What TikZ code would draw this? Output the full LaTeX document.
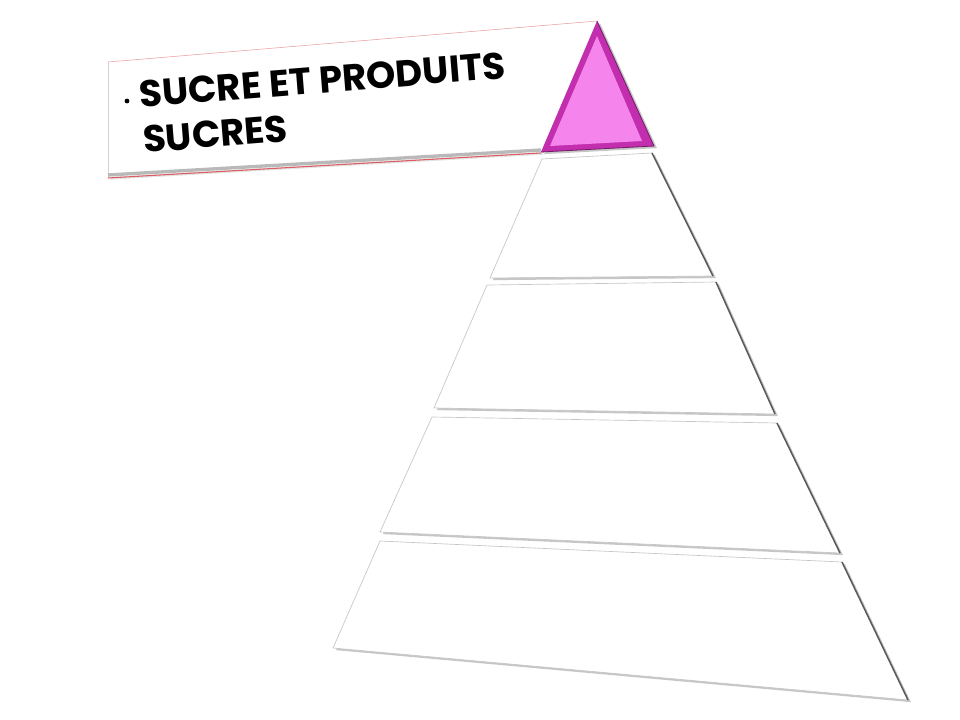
\documentclass[tikz,border=0pt]{standalone}
\usepackage{fontspec}
\newfontfamily\labelfont{Poppins}
\usetikzlibrary{calc}
\definecolor{sugarpink}{rgb}{0.96,0.52,0.93}
\definecolor{sugaredge}{rgb}{0.76,0.18,0.68}
\definecolor{boxline}{rgb}{0.86,0.36,0.38}
\tikzset{
  levelshadow/.style={fill=gray!45, draw=none, transform canvas={xshift=2.2pt, yshift=-1.6pt}},
  level/.style={fill=white, draw=gray!45, line width=0.5pt},
  rightedge/.style={draw=black!65, line width=1.1pt},
}

\begin{document}
\begin{tikzpicture}[x=0.75pt,y=-0.75pt]
  \useasboundingbox (0,0) rectangle (960,720);

  \coordinate (Apex) at (597,21);
  \coordinate (PinkL) at (541,152);
  \coordinate (PinkR) at (654,146);

  \coordinate (TwoTL) at (542,159);  \coordinate (TwoTR) at (652,153);
  \coordinate (TwoBR) at (713,276);  \coordinate (TwoBL) at (490,278);
  \coordinate (ThreeTL) at (487,285); \coordinate (ThreeTR) at (716,282);
  \coordinate (ThreeBR) at (775,414); \coordinate (ThreeBL) at (434,408);
  \coordinate (FourTL) at (432,417);  \coordinate (FourTR) at (777,423);
  \coordinate (FourBR) at (840,553);  \coordinate (FourBL) at (380,532);
  \coordinate (FiveTL) at (380,541);  \coordinate (FiveTR) at (842,562);
  \coordinate (FiveBR) at (908,700);  \coordinate (FiveBL) at (333,648);

  \coordinate (BoxTL) at (108,62);
  \coordinate (BoxBL) at (108,177);

  % callout
  \fill[gray!20, transform canvas={xshift=1.5pt, yshift=-2pt}] (BoxTL) -- (Apex) -- (PinkL) -- (BoxBL) -- cycle;
  \fill[white] (BoxTL) -- (Apex) -- (PinkL) -- (BoxBL) -- cycle;
  \draw[boxline!60, line width=0.4pt] (BoxTL) -- (Apex);
  \draw[gray!35, line width=0.4pt] (BoxTL) -- (BoxBL);
  \draw[gray!55, line width=2.5pt] ($(BoxBL)+(0,-2)$) -- ($(PinkL)+(0,-2)$);
  \draw[boxline, line width=0.8pt] ($(BoxBL)+(0,1)$) -- ($(PinkL)+(0,1)$);

  % levels
  \foreach \lv in {Two,Three,Four,Five}{
    \fill[levelshadow] (\lv TL) -- (\lv TR) -- (\lv BR) -- (\lv BL) -- cycle;
    \draw[level] (\lv TL) -- (\lv TR) -- (\lv BR) -- (\lv BL) -- cycle;
    \draw[rightedge] (\lv TR) -- (\lv BR);
  }

  % top
  \fill[levelshadow] (Apex) -- (PinkR) -- (PinkL) -- cycle;
  \fill[sugaredge] (Apex) -- (PinkR) -- (PinkL) -- cycle;
  \fill[sugarpink] (597,36) -- (642,141) -- (550,146) -- cycle;
  \draw[sugaredge!60!black, line width=0.6pt] (Apex) -- (PinkR) -- (PinkL);

  \fill[black] (127,101) circle (2.4);
  \node (sugar) [anchor=north west, inner sep=0pt, rotate=4.6, align=left,
    font=\labelfont\bfseries\fontsize{28}{34}\selectfont] at (138,81)
    {SUCRE ET PRODUITS\\SUCRES};
\end{tikzpicture}
\end{document}
